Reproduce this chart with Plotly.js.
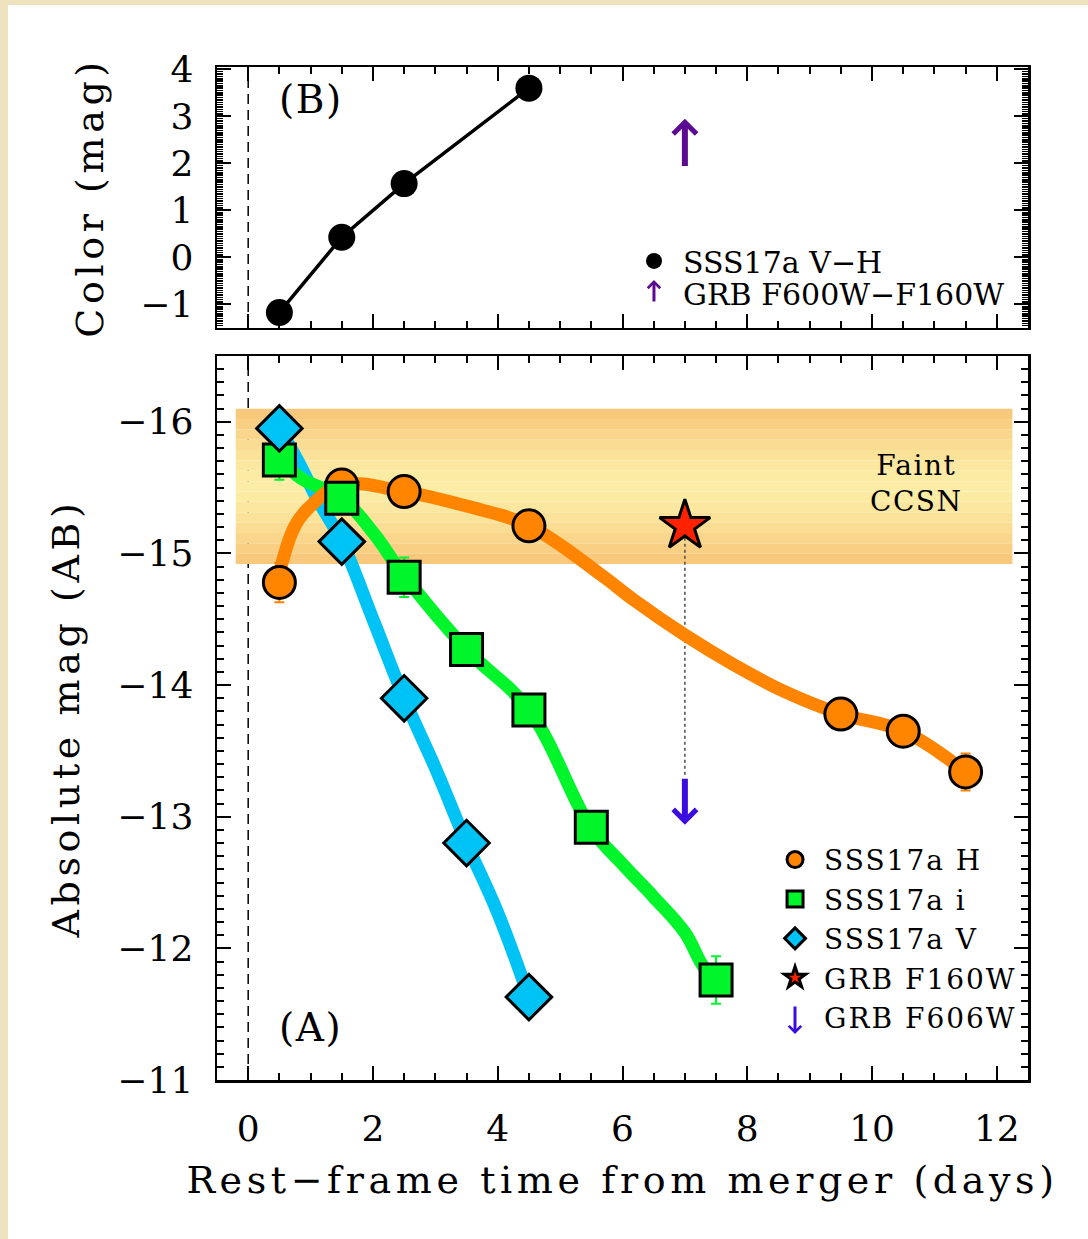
<!DOCTYPE html>
<html>
<head>
<meta charset="utf-8">
<script src="https://cdn.plot.ly/plotly-3.0.1.min.js"></script>
<style>
  html, body { margin: 0; padding: 0; background: #ffffff; overflow: hidden; width: 1088px; height: 1239px; }
  #wrap { position: relative; width: 1088px; height: 1239px; background: #ffffff; }
  #edgeLeft { position: absolute; left: 0; top: 0; width: 8px; height: 1239px; background: #eee2bf; }
  #edgeTop { position: absolute; left: 0; top: 0; width: 1088px; height: 5px; background: #eee2bf; }
  #chart { position: absolute; left: 0; top: 0; width: 1088px; height: 1239px; }
  text.xtitle, text.ytitle, text.y2title { letter-spacing: 4.6px; }
  text.legendtext { letter-spacing: 2px; }
  text.annotation-text { letter-spacing: 1.5px; }
</style>
</head>
<body>
<div id="wrap">
  <div id="edgeLeft"></div>
  <div id="edgeTop"></div>
  <div id="chart"></div>
</div>
<script>
// ---- SSS17a photometry (rest-frame days after merger, AB absolute mag) ----
const tH   = [0.5, 1.5, 2.5, 4.5, 9.5, 10.5, 11.5];
const magH = [-14.78, -15.52, -15.47, -15.21, -13.78, -13.65, -13.34];
const errH = [0.15, 0.08, 0.08, 0.08, 0.08, 0.08, 0.14];

const tI   = [0.5, 1.5, 2.5, 3.5, 4.5, 5.5, 7.5];
const magI = [-15.71, -15.42, -14.82, -14.27, -13.81, -12.92, -11.76];
const errI = [0.15, 0.08, 0.15, 0.08, 0.08, 0.08, 0.18];

const tV   = [0.5, 1.5, 2.5, 3.5, 4.5];
const magV = [-15.95, -15.09, -13.90, -12.80, -11.63];

// ---- smooth light-curve fits ----
const fitTH   = [0.5, 0.75, 1.0, 1.5, 2.5, 3.5, 4.5, 5.65, 6.2, 7.0, 7.8, 8.6, 9.5, 10.5, 11.5];
const fitMagH = [-14.85, -15.21, -15.36, -15.52, -15.47, -15.36, -15.21, -14.84, -14.64, -14.38, -14.15, -13.95, -13.78, -13.65, -13.34];

const fitTI   = [0.5, 0.85, 1.5, 2.0, 2.5, 3.5, 4.5, 5.5, 6.0, 6.5, 7.0, 7.3, 7.5];
const fitMagI = [-15.72, -15.57, -15.42, -15.16, -14.83, -14.27, -13.81, -12.91, -12.64, -12.39, -12.12, -11.86, -11.77];

const fitTV   = [0.5, 0.8, 1.1, 1.5, 2.0, 2.5, 3.0, 3.5, 4.0, 4.5];
const fitMagV = [-15.95, -15.70, -15.42, -15.09, -14.50, -13.90, -13.37, -12.80, -12.27, -11.63];

// ---- GRB counterpart ----
const tGRB = [7.0];
const magGRBF160W = [-15.21];
const limGRBF606W = [-13.30];          // upper limit (fainter than)

// ---- colour panel ----
const tColor = [0.5, 1.5, 2.5, 4.5];
const colorVH = [-1.17, 0.43, 1.57, 3.60];
const limColorGRB = [1.91];            // lower limit

// ---- faint core-collapse SN range ----
const ccsnMag = [-16.10, -14.92];
const ccsnT = [-0.2, 12.25];

// ---- styling ----
const FONT = 'DejaVu Serif';
const ORANGE = '#ff8400', GREEN = '#00f52a', CYAN = '#00c3f5';
const BLUE_ARROW = '#3a0ce0', PURPLE_ARROW = '#5b0a91';

const traces = [];

// dotted connector between detection and limit
traces.push({
  x: [tGRB[0], tGRB[0]], y: [magGRBF160W[0], limGRBF606W[0]],
  xaxis: 'x', yaxis: 'y', mode: 'lines', showlegend: false, hoverinfo: 'skip',
  line: {color: '#555555', width: 1.6, dash: 'dot'}
});

// fitted curves
[[fitTV, fitMagV, CYAN], [fitTI, fitMagI, GREEN], [fitTH, fitMagH, ORANGE]].forEach(([t, m, c]) => {
  traces.push({
    x: t, y: m, xaxis: 'x', yaxis: 'y', mode: 'lines', showlegend: false, hoverinfo: 'skip',
    line: {color: c, width: 13, shape: 'spline', smoothing: 1.1}
  });
});

// photometric points
traces.push({
  x: tH, y: magH, name: 'SSS17a H', legend: 'legend', legendrank: 1,
  xaxis: 'x', yaxis: 'y', mode: 'markers',
  error_y: {type: 'data', array: errH, color: ORANGE, thickness: 2, width: 5},
  marker: {symbol: 'circle', size: 32, color: ORANGE, line: {color: '#000', width: 3}}
});
traces.push({
  x: tI, y: magI, name: 'SSS17a i', legend: 'legend', legendrank: 2,
  xaxis: 'x', yaxis: 'y', mode: 'markers',
  error_y: {type: 'data', array: errI, color: GREEN, thickness: 2, width: 5},
  marker: {symbol: 'square', size: 32, color: GREEN, line: {color: '#000', width: 3}}
});
traces.push({
  x: tV, y: magV, name: 'SSS17a V', legend: 'legend', legendrank: 3,
  xaxis: 'x', yaxis: 'y', mode: 'markers',
  marker: {symbol: 'diamond', size: 35, color: CYAN, line: {color: '#000', width: 3}}
});
traces.push({
  x: tGRB, y: magGRBF160W, name: 'GRB F160W', legend: 'legend', legendrank: 4,
  xaxis: 'x', yaxis: 'y', mode: 'markers',
  marker: {symbol: 'star', size: 38, color: '#ff2200', line: {color: '#000', width: 3}}
});
traces.push({
  x: tGRB, y: limGRBF606W, name: 'GRB F606W', legend: 'legend', legendrank: 5,
  xaxis: 'x', yaxis: 'y', mode: 'markers', hoverinfo: 'skip',
  marker: {size: 2, color: BLUE_ARROW, opacity: 0}
});

// colour panel
traces.push({
  x: tColor, y: colorVH, xaxis: 'x2', yaxis: 'y2', mode: 'lines', showlegend: false,
  line: {color: '#000', width: 3.5}, hoverinfo: 'skip'
});
traces.push({
  x: tColor, y: colorVH, name: 'SSS17a V−H', legend: 'legend2',
  xaxis: 'x2', yaxis: 'y2', mode: 'markers',
  marker: {symbol: 'circle', size: 27, color: '#000'}
});
traces.push({
  x: tGRB, y: limColorGRB, name: 'GRB F600W−F160W', legend: 'legend3',
  xaxis: 'x2', yaxis: 'y2', mode: 'markers', hoverinfo: 'skip',
  marker: {size: 2, color: PURPLE_ARROW, opacity: 0}
});

// shaded band with soft vertical gradient
const shapes = [];
const nStripes = 15;
const edgeC = [248, 196, 120], midC = [251, 237, 166];
for (let k = 0; k < nStripes; k++) {
  const f = (k + 0.5) / nStripes;
  const d = Math.abs(f - 0.5) * 2;
  const w = Math.pow(d, 1.4);
  const col = 'rgb(' + edgeC.map((e, j) => Math.round(midC[j] + (e - midC[j]) * w)).join(',') + ')';
  shapes.push({
    type: 'rect', xref: 'x', yref: 'y', layer: 'below',
    x0: ccsnT[0], x1: ccsnT[1],
    y0: ccsnMag[0] + (ccsnMag[1] - ccsnMag[0]) * k / nStripes,
    y1: ccsnMag[0] + (ccsnMag[1] - ccsnMag[0]) * (k + 1) / nStripes,
    fillcolor: col, line: {width: 0}
  });
}
// merger epoch
shapes.push({type: 'line', xref: 'x', yref: 'y domain', x0: 0, x1: 0, y0: 0, y1: 1, layer: 'below',
  line: {color: '#000', width: 1.5, dash: '10px,6px'}});
shapes.push({type: 'line', xref: 'x2', yref: 'y2 domain', x0: 0, x1: 0, y0: 0, y1: 1, layer: 'below',
  line: {color: '#000', width: 1.5, dash: '10px,6px'}});

const annotations = [
  // GRB limits
  {x: tGRB[0], y: limGRBF606W[0] + 0.36, xref: 'x', yref: 'y',
   ax: tGRB[0], ay: limGRBF606W[0], axref: 'x', ayref: 'y', text: '',
   showarrow: true, arrowhead: 4, arrowwidth: 6, arrowsize: 0.75, arrowcolor: BLUE_ARROW, standoff: 0},
  {x: tGRB[0], y: limColorGRB[0] + 1.04, xref: 'x2', yref: 'y2',
   ax: tGRB[0], ay: limColorGRB[0], axref: 'x2', ayref: 'y2', text: '',
   showarrow: true, arrowhead: 4, arrowwidth: 6, arrowsize: 0.75, arrowcolor: PURPLE_ARROW, standoff: 0},
  // legend keys for the limits
  {x: 0.7127, y: 0.0454, xref: 'paper', yref: 'paper', ax: 0, ay: -29, text: '',
   showarrow: true, arrowhead: 4, arrowwidth: 3, arrowsize: 0.8, arrowcolor: BLUE_ARROW, standoff: 0},
  {x: 0.5388, y: 0.7897, xref: 'paper', yref: 'paper', ax: 0, ay: 23, text: '',
   showarrow: true, arrowhead: 4, arrowwidth: 3, arrowsize: 0.8, arrowcolor: PURPLE_ARROW, standoff: 0},
  // panel labels
  {x: 1.0, y: -11.4, xref: 'x', yref: 'y', text: '(A)', showarrow: false,
   font: {family: FONT, size: 39, color: '#000'}},
  {x: 1.0, y: 3.35, xref: 'x2', yref: 'y2', text: '(B)', showarrow: false,
   font: {family: FONT, size: 39, color: '#000'}},
  {x: 10.72, y: -15.53, xref: 'x', yref: 'y', text: 'Faint<br>CCSN', showarrow: false,
   font: {family: FONT, size: 28, color: '#000'}}
];

const axisCommon = {
  showgrid: false, zeroline: false, showline: true, linecolor: '#000', linewidth: 2.5,
  mirror: 'ticks', ticks: 'inside', tickcolor: '#000', tickwidth: 2, ticklen: 14,
  tickfont: {family: FONT, size: 36, color: '#000'}
};

const legendCommon = {
  xanchor: 'left', yanchor: 'top', bgcolor: 'rgba(0,0,0,0)', borderwidth: 0,
  itemsizing: 'trace', itemwidth: 48, tracegroupgap: 0,
  font: {family: FONT, size: 28, color: '#000'}
};
const legendTopFont = {family: FONT, size: 30, color: '#000'};

const layout = {
  width: 1088, height: 1239,
  margin: {l: 217, r: 60, t: 67, b: 159},
  paper_bgcolor: 'rgba(0,0,0,0)', plot_bgcolor: '#ffffff',
  font: {family: FONT, color: '#000'},
  showlegend: true,
  xaxis: Object.assign({}, axisCommon, {
    domain: [0, 1], anchor: 'y', range: [-0.5, 12.5], tick0: 0, dtick: 2,
    ticklabelstandoff: 15,
    minor: {dtick: 0.5, ticks: 'inside', ticklen: 7, tickwidth: 2, tickcolor: '#000'},
    title: {text: 'Rest−frame time from merger (days)', font: {family: FONT, size: 38}, standoff: 19}
  }),
  yaxis: Object.assign({}, axisCommon, {
    domain: [0, 0.7147], anchor: 'x', range: [-11, -16.5], tick0: -16, dtick: 1,
    ticklabelstandoff: 14,
    minor: {dtick: 0.1, ticks: 'inside', ticklen: 7, tickwidth: 2, tickcolor: '#000'},
    title: {text: 'Absolute mag (AB)', font: {family: FONT, size: 38}, standoff: 26}
  }),
  xaxis2: Object.assign({}, axisCommon, {
    domain: [0, 1], anchor: 'y2', range: [-0.5, 12.5], tick0: 0, dtick: 2, showticklabels: false,
    minor: {dtick: 0.5, ticks: 'inside', ticklen: 7, tickwidth: 2, tickcolor: '#000'}
  }),
  yaxis2: Object.assign({}, axisCommon, {
    domain: [0.7424, 1], anchor: 'x2', range: [-1.5, 4.05], tick0: -1, dtick: 1,
    ticklabelstandoff: 14,
    minor: {dtick: 0.05, ticks: 'inside', ticklen: 6, tickwidth: 1.5, tickcolor: '#000'},
    title: {text: 'Color (mag)', font: {family: FONT, size: 38}, standoff: 25}
  }),
  legend: Object.assign({}, legendCommon, {x: 0.6770, y: 0.242}),
  legend2: Object.assign({}, legendCommon, {x: 0.5031, y: 0.8342, font: legendTopFont}),
  legend3: Object.assign({}, legendCommon, {x: 0.5031, y: 0.8026, font: legendTopFont}),
  shapes: shapes,
  annotations: annotations
};

Plotly.newPlot('chart', traces, layout, {displayModeBar: false, staticPlot: true});
</script>
</body>
</html>
